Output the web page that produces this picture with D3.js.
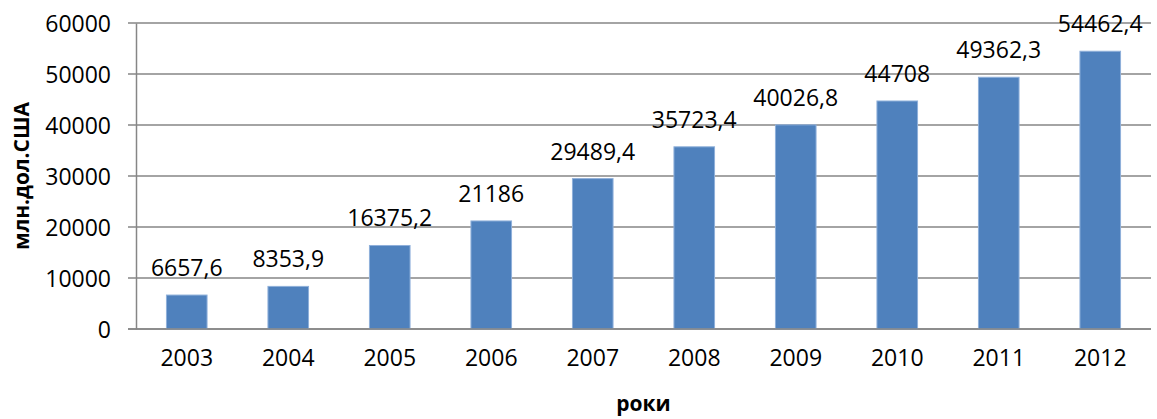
<!DOCTYPE html>
<html><head><meta charset="utf-8">
<script src="https://cdn.jsdelivr.net/npm/d3@7/dist/d3.min.js"></script>
<style>body{margin:0;background:#fff}svg{display:block}</style>
</head><body><svg id="c" width="1157" height="419"></svg>
<script>
const years = ["2003","2004","2005","2006","2007","2008","2009","2010","2011","2012"];
const values = [6657.6, 8353.9, 16375.2, 21186, 29489.4, 35723.4, 40026.8, 44708, 49362.3, 54462.4];
const valueLabels = ["6657,6","8353,9","16375,2","21186","29489,4","35723,4","40026,8","44708","49362,3","54462,4"];
const yTicks = [0,10000,20000,30000,40000,50000,60000];
const yTitle = "млн.дол.США";
const xTitle = "роки";

const svg = d3.select("#c");
const L = 136, R = 1151, T = 23, B = 329;
const x = d3.scaleBand().domain(years).range([L, R]).paddingInner(0.6).paddingOuter(0.3);
const y = d3.scaleLinear().domain([0, 60000]).range([B, T]);
const font = "'Open Sans', sans-serif";
const fs = 23;

// gridlines
svg.append("g").selectAll("line").data(yTicks).join("line")
  .attr("x1", L - 8).attr("x2", R).attr("y1", d => y(d)).attr("y2", d => y(d))
  .attr("stroke", "#868686").attr("stroke-width", 1.5);

// bars
svg.append("g").selectAll("rect").data(values).join("rect")
  .attr("x", (d, i) => x(years[i])).attr("width", x.bandwidth())
  .attr("y", d => y(d)).attr("height", d => B - y(d))
  .attr("fill", "#4F81BD").attr("stroke", "#8FB0DA").attr("stroke-width", 1);

// axes
const yAxis = d3.axisLeft(y).tickValues(yTicks).tickSize(0).tickPadding(25).tickFormat(d3.format("d"));
const gy = svg.append("g").attr("transform", `translate(${L},0)`).call(yAxis);
gy.select(".domain").attr("stroke", "#868686").attr("stroke-width", 1.5);
gy.selectAll("text").attr("font-family", font).attr("font-size", fs).attr("fill", "#000").attr("dy", "0.35em");

const xAxis = d3.axisBottom(x).tickSize(0).tickPadding(21);
const gx = svg.append("g").attr("transform", `translate(0,${B})`).call(xAxis);
gx.select(".domain").attr("stroke", "#868686").attr("stroke-width", 1.5).attr("d", `M${L - 8},0H${R}`);
gx.selectAll("text").attr("font-family", font).attr("font-size", fs).attr("fill", "#000");

// data labels
svg.append("g").selectAll("text").data(values).join("text")
  .attr("x", (d, i) => x(years[i]) + x.bandwidth() / 2)
  .attr("y", d => y(d) - 19)
  .attr("text-anchor", "middle").attr("font-family", font).attr("font-size", fs).attr("fill", "#000")
  .text((d, i) => valueLabels[i]);

// titles
svg.append("text").attr("transform", `translate(29,${(T + B) / 2}) rotate(-90)`)
  .attr("text-anchor", "middle").attr("font-family", font).attr("font-size", 21).attr("font-weight", "bold")
  .text(yTitle);
svg.append("text").attr("x", (L + R) / 2).attr("y", 411)
  .attr("text-anchor", "middle").attr("font-family", font).attr("font-size", 21).attr("font-weight", "bold")
  .text(xTitle);
</script></body></html>
